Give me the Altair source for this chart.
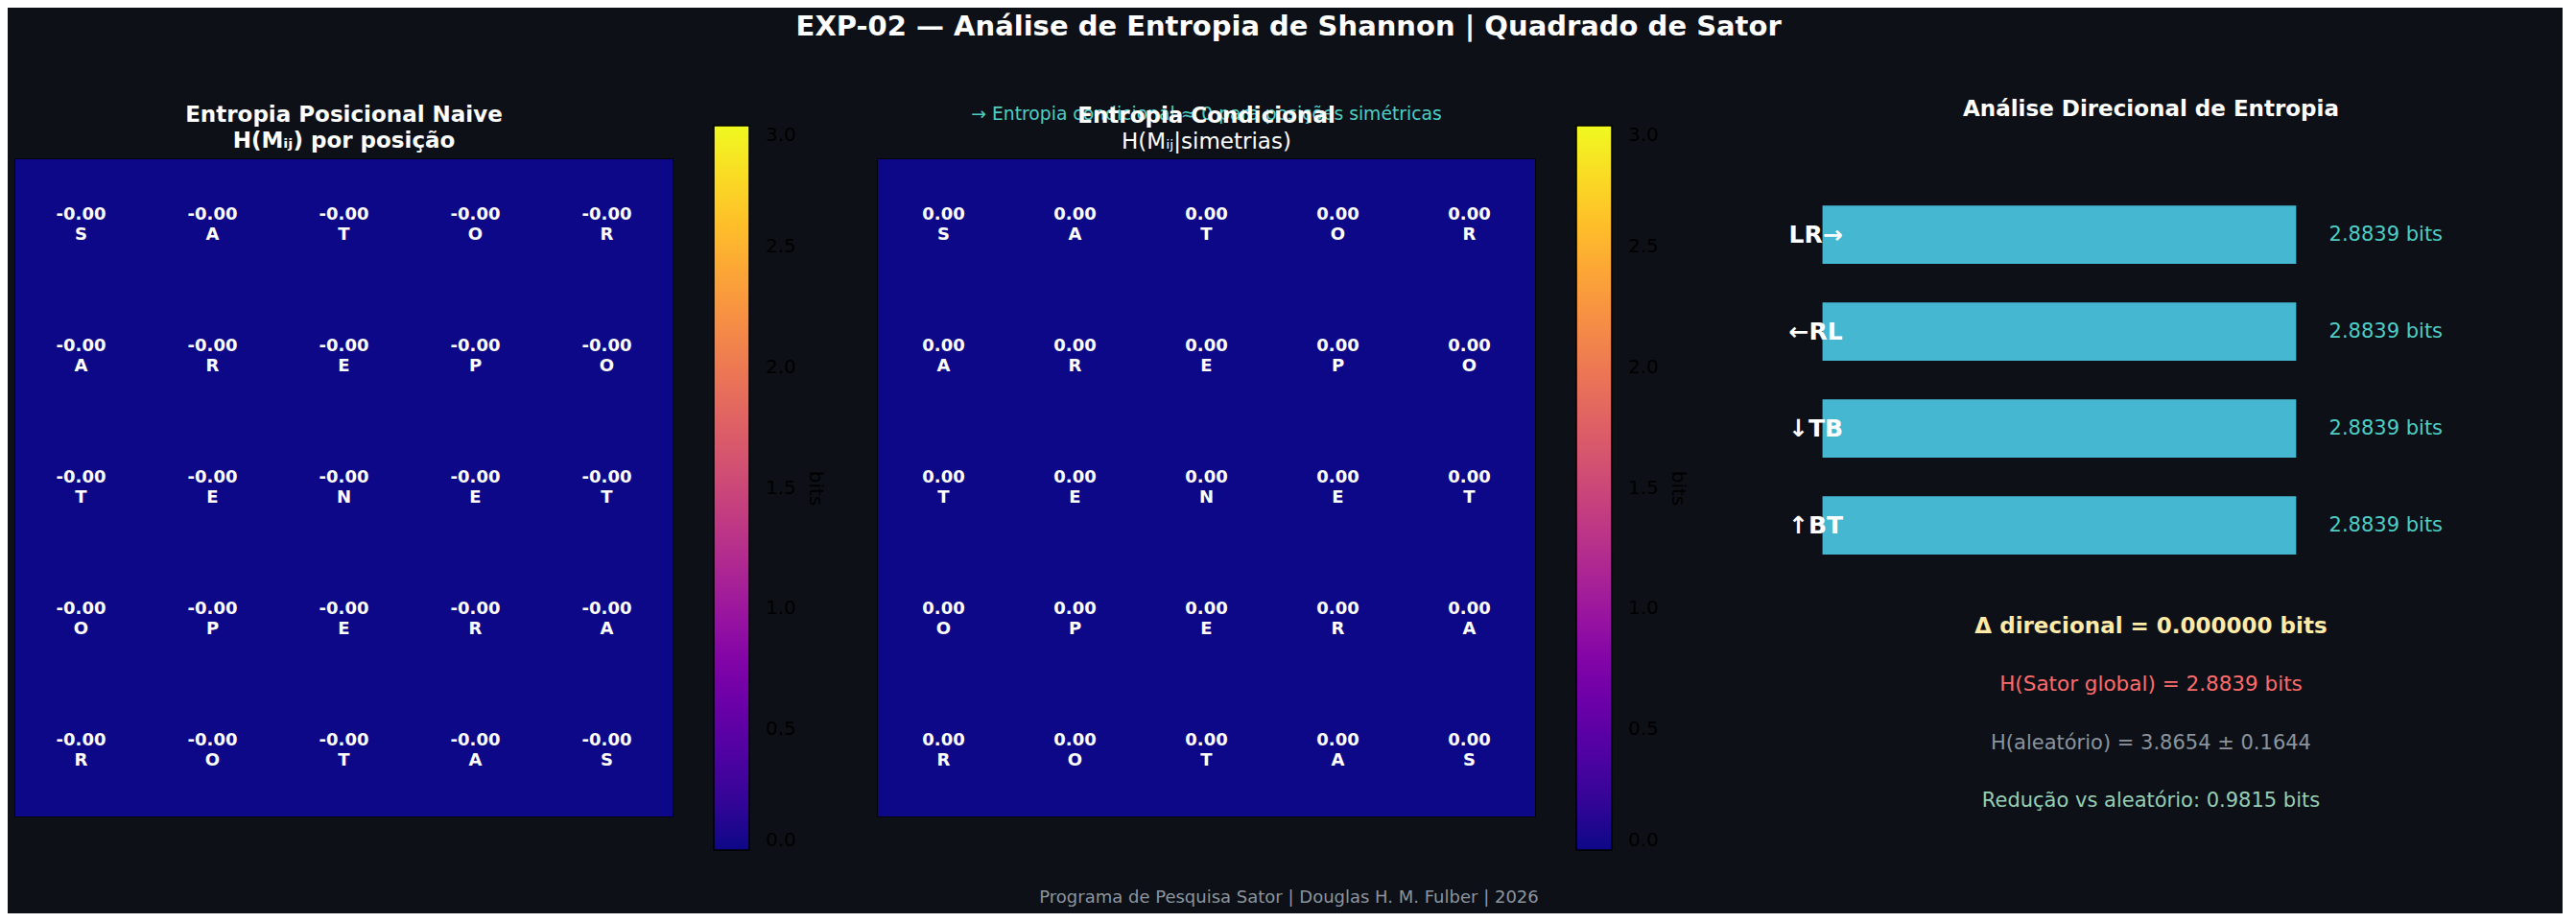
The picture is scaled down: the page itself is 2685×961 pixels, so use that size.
import altair as alt
import pandas as pd

BG = "#0d1117"
FONT = "DejaVu Sans"

# Quadrado de Sator e entropias por posicao
square = ["SATOR", "AREPO", "TENET", "OPERA", "ROTAS"]
h_naive = [
    [-0.0, -0.0, -0.0, -0.0, -0.0],
    [-0.0, -0.0, -0.0, -0.0, -0.0],
    [-0.0, -0.0, -0.0, -0.0, -0.0],
    [-0.0, -0.0, -0.0, -0.0, -0.0],
    [-0.0, -0.0, -0.0, -0.0, -0.0],
]
h_cond = [
    [0.0, 0.0, 0.0, 0.0, 0.0],
    [0.0, 0.0, 0.0, 0.0, 0.0],
    [0.0, 0.0, 0.0, 0.0, 0.0],
    [0.0, 0.0, 0.0, 0.0, 0.0],
    [0.0, 0.0, 0.0, 0.0, 0.0],
]
cbar_ticks = [0.0, 0.5, 1.0, 1.5, 2.0, 2.5, 3.0]

directions = ["LR→", "←RL", "↓TB", "↑BT"]
dir_entropy = [2.8839, 2.8839, 2.8839, 2.8839]

delta_dir = 0.0
h_global = 2.8839
h_rand_mean = 3.8654
h_rand_std = 0.1644
reduction = 0.9815

main_title = "EXP-02 — Análise de Entropia de Shannon | Quadrado de Sator"
note = "→ Entropia condicional ≈ 0 para posições simétricas"
footer = "Programa de Pesquisa Sator | Douglas H. M. Fulber | 2026"


def grid_frame(values):
    rows = []
    for i, word in enumerate(square):
        for j, letter in enumerate(word):
            v = values[i][j]
            rows.append({"row": i, "col": j, "letter": letter, "h": v, "txt": f"{v:.2f}"})
    return pd.DataFrame(rows)


def heatmap(values, title, subtitle, sub_weight, title_offset, extra=None):
    base = alt.Chart(grid_frame(values)).encode(
        x=alt.X("col:O", axis=None),
        y=alt.Y("row:O", axis=None),
    )
    cells = base.mark_rect().encode(
        color=alt.Color(
            "h:Q",
            scale=alt.Scale(scheme="plasma", domain=[0, 3]),
            legend=alt.Legend(
                orient="none", legendX=728, legendY=-35, direction="vertical",
                gradientLength=755, gradientThickness=37,
                gradientStrokeColor="black", gradientStrokeWidth=1.5,
                values=cbar_ticks, format=".1f",
                labelColor="black", labelFont=FONT, labelFontSize=20, labelOffset=17,
                labelBaseline="middle",
                title="bits", titleOrient="right", titleAnchor="middle",
                titleColor="black", titleFont=FONT, titleFontSize=20,
                titleFontWeight="normal", titlePadding=10, padding=0,
            ),
        ),
    )
    nums = base.mark_text(color="white", font=FONT, fontSize=18, fontWeight="bold",
                          dy=-10.75).encode(text="txt:N")
    lets = base.mark_text(color="white", font=FONT, fontSize=18, fontWeight="bold",
                          dy=10.75).encode(text="letter:N")
    layers = [cells, nums, lets]
    if extra is not None:
        layers.append(extra)
    return alt.layer(*layers).properties(
        width=685, height=685,
        view=alt.ViewBackground(stroke="black", strokeWidth=1.5),
        title=alt.Title(
            title, subtitle=subtitle, frame="group", anchor="middle",
            font=FONT, fontSize=23, fontWeight="bold", color="white",
            subtitleFont=FONT, subtitleFontSize=23, subtitleFontWeight=sub_weight,
            subtitleColor="white", subtitlePadding=4, offset=title_offset,
        ),
    )


note_mark = alt.Chart(pd.DataFrame({"note": [note]})).mark_text(
    color="#4ecdc4", font=FONT, fontSize=18.75, baseline="middle"
).encode(text="note:N", y=alt.value(-46.7))

hm1 = heatmap(h_naive, "Entropia Posicional Naive", "H(Mᵢⱼ) por posição", "bold", -27.5)
hm2 = heatmap(h_cond, "Entropia Condicional", "H(Mᵢⱼ|simetrias)", "normal", -49.8,
              note_mark)

# painel direcional
dir_df = pd.DataFrame({
    "dir": directions,
    "h": dir_entropy,
    "lab": [f"{v:.4f} bits" for v in dir_entropy],
})
xbits = alt.Scale(domain=[-0.5, 4.5])
ybars = alt.Y("dir:N", sort=directions, axis=None,
              scale=alt.Scale(paddingInner=0.4, paddingOuter=0.478))

bars = alt.Chart(dir_df).mark_bar(color="#45b7d1").encode(
    x=alt.X("h:Q", scale=xbits, axis=None), y=ybars)
names = alt.Chart(dir_df).transform_calculate(z="0").mark_text(
    color="white", font=FONT, fontSize=25, fontWeight="bold", align="center", dx=-7
).encode(x=alt.X("z:Q", scale=xbits, axis=None), y=ybars, text="dir:N")
vals = alt.Chart(dir_df).transform_calculate(lx="datum.h + 0.2").mark_text(
    color="#4ecdc4", font=FONT, fontSize=21, align="left"
).encode(x=alt.X("lx:Q", scale=xbits, axis=None), y=ybars, text="lab:N")
bar_chart = alt.layer(bars, names, vals).properties(
    width=856, height=460.2,
    title=alt.Title("Análise Direcional de Entropia", font=FONT, fontSize=23,
                    fontWeight="bold", color="white", anchor="middle", offset=39.6),
)

stats_lines = [
    f"Δ direcional = {delta_dir:.6f} bits",
    f"H(Sator global) = {h_global:.4f} bits",
    f"H(aleatório) = {h_rand_mean:.4f} ± {h_rand_std:.4f}",
    f"Redução vs aleatório: {reduction:.4f} bits",
]
stats_df = pd.DataFrame({"line": stats_lines})
ystat = alt.Y("line:N", axis=None,
              scale=alt.Scale(type="point", domain=stats_lines, padding=0.436))


def stat_line(i, **style):
    return alt.Chart(stats_df).transform_filter(
        alt.datum.line == stats_lines[i]
    ).mark_text(font=FONT, **style).encode(y=ystat, text="line:N")


stats_chart = alt.layer(
    stat_line(0, color="#ffeaa7", fontSize=23, fontWeight="bold"),
    stat_line(1, color="#ff6b6b", fontSize=21.5),
    stat_line(2, color="#8b949e", fontSize=21),
    stat_line(3, color="#96ceb4", fontSize=21),
).properties(width=856, height=234.6)

panel3 = alt.vconcat(bar_chart, stats_chart, spacing=0)

row = alt.hconcat(hm1, hm2, panel3, spacing=214, bounds="flush").resolve_scale(
    color="independent"
)

foot = alt.Chart(pd.DataFrame({"f": [footer]})).mark_text(
    color="#8b949e", font=FONT, fontSize=18
).encode(text="f:N").properties(width=2655, height=32)

chart = alt.vconcat(row, foot, spacing=32).properties(
    title=alt.Title(main_title, font=FONT, fontSize=29, fontWeight="bold",
                    color="white", anchor="middle", offset=60),
    padding={"left": 7, "top": 6, "right": 0, "bottom": 0},
    background=BG,
).configure_view(fill=BG, strokeWidth=0)

chart.save("out.html", embed_options={"renderer": "svg", "actions": False})
